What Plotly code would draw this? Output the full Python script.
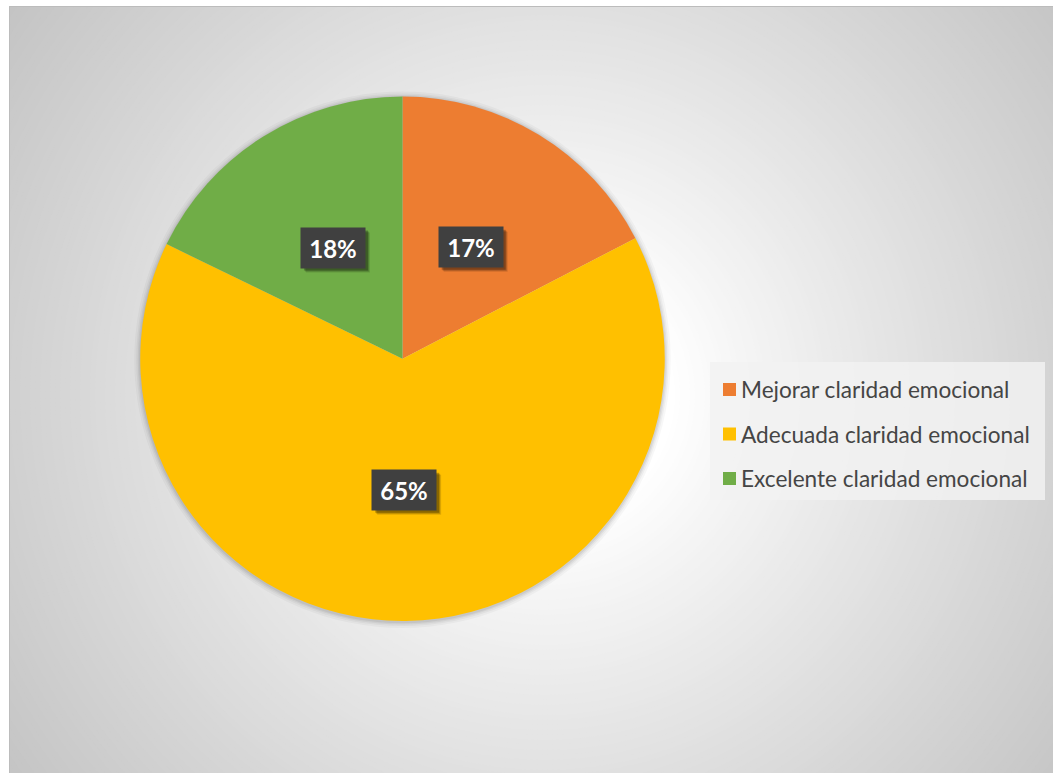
import math
import plotly.graph_objects as go

# ---------------- data ----------------
categories = ["Mejorar claridad emocional", "Adecuada claridad emocional", "Excelente claridad emocional"]
values = [17.4, 64.8, 17.8]
colors = ["#ED7D31", "#FFC000", "#70AD47"]

W, H = 1053, 773

def px(x):
    return x / W

def py(y):
    return 1 - y / H

# pie geometry (pixels)
PCX, PCY, PR = 402.5, 358.75, 262.25

fig = go.Figure()
fig.add_trace(go.Pie(
    labels=categories, values=values, sort=False, direction="clockwise", rotation=0,
    marker=dict(colors=colors, line=dict(width=0)),
    textinfo="none", hoverinfo="label+percent", showlegend=False,
    domain=dict(x=[px(PCX - PR), px(PCX + PR)], y=[py(PCY + PR), py(PCY - PR)]),
))

shapes = []
# chart-area background: radial gradient approximated by concentric discs
GCX, GCY = 545, 395
R0, R1 = 130.0, 660.0
c_edge = 196
shapes.append(dict(type="rect", xref="paper", yref="paper", x0=0, x1=1, y0=0, y1=1,
                   fillcolor=f"rgb({c_edge},{c_edge},{c_edge})", line=dict(width=0), layer="below"))
r = R1
while r > R0 - 6:
    t = max(0.0, (r - R0) / (R1 - R0))
    c = int(round(255 - (255 - c_edge) * t ** 0.9))
    shapes.append(dict(type="circle", xref="paper", yref="paper",
                       x0=px(GCX - r), x1=px(GCX + r), y0=py(GCY + r), y1=py(GCY - r),
                       fillcolor=f"rgb({c},{c},{c})", line=dict(width=0), layer="below"))
    r -= 5
# white page outside chart area
shapes.append(dict(type="rect", xref="paper", yref="paper", x0=0, x1=px(9), y0=0, y1=1,
                   fillcolor="white", line=dict(width=0), layer="below"))
shapes.append(dict(type="rect", xref="paper", yref="paper", x0=0, x1=1, y0=py(6), y1=1,
                   fillcolor="white", line=dict(width=0), layer="below"))
# chart-area border
shapes.append(dict(type="rect", xref="paper", yref="paper", x0=px(9.5), x1=px(1070), y0=py(790), y1=py(6.5),
                   fillcolor="rgba(0,0,0,0)", line=dict(color="#bcbcbc", width=1), layer="below"))
# soft shadow behind pie
for d, a in [(6, 0.03), (4, 0.04), (2.5, 0.05), (1.2, 0.06)]:
    rr = PR + d
    shapes.append(dict(type="circle", xref="paper", yref="paper",
                       x0=px(PCX - rr), x1=px(PCX + rr), y0=py(PCY + 1 + rr), y1=py(PCY + 1 - rr),
                       fillcolor=f"rgba(0,0,0,{a})", line=dict(width=0), layer="below"))

annotations = []
# data labels (boxes) at half radius on the slice mid-angle
total = sum(values)
cum = 0.0
BW, BH = 64, 40
for v in values:
    mid = (cum + v / 2) / total * 2 * math.pi
    cum += v
    lx = PCX + 0.5 * PR * math.sin(mid)
    ly = PCY - 0.5 * PR * math.cos(mid)
    for off, a in [(5, 0.12), (4, 0.18), (3, 0.25)]:
        shapes.append(dict(type="rect", xref="paper", yref="paper",
                           x0=px(lx - BW / 2 + off), x1=px(lx + BW / 2 + off),
                           y0=py(ly + BH / 2 + off), y1=py(ly - BH / 2 + off),
                           fillcolor=f"rgba(0,0,0,{a})", line=dict(width=0), layer="above"))
    annotations.append(dict(x=px(lx), y=py(ly), xref="paper", yref="paper",
                            text=f"<b>{round(v / total * 100)}%</b>", showarrow=False,
                            width=BW, height=BH, borderpad=0, bgcolor="#404040",
                            font=dict(family="Lato", size=24, color="white"),
                            xanchor="center", yanchor="middle", align="center", valign="middle"))

# legend (drawn manually to match row spacing)
LX0, LX1, LY0, LY1 = 710, 1045, 362, 500
shapes.append(dict(type="rect", xref="paper", yref="paper", x0=px(LX0), x1=px(LX1), y0=py(LY1), y1=py(LY0),
                   fillcolor="rgba(242,242,242,0.83)", line=dict(width=0), layer="below"))
row0, rowgap = 389.5, 44.5
for i, (cat, col) in enumerate(zip(categories, colors)):
    yc = row0 + i * rowgap
    shapes.append(dict(type="rect", xref="paper", yref="paper",
                       x0=px(723), x1=px(736), y0=py(yc + 6.5), y1=py(yc - 6.5),
                       fillcolor=col, line=dict(width=0), layer="below"))
    annotations.append(dict(x=px(739), y=py(yc), xref="paper", yref="paper", text=cat,
                            showarrow=False, xanchor="left", yanchor="middle",
                            font=dict(family="Lato", size=22.6, color="#454545")))

fig.update_layout(
    width=W, height=H, autosize=False,
    margin=dict(l=0, r=0, t=0, b=0),
    paper_bgcolor="white", plot_bgcolor="white",
    showlegend=False,
    shapes=shapes, annotations=annotations,
)

fig.write_html("out.html")
